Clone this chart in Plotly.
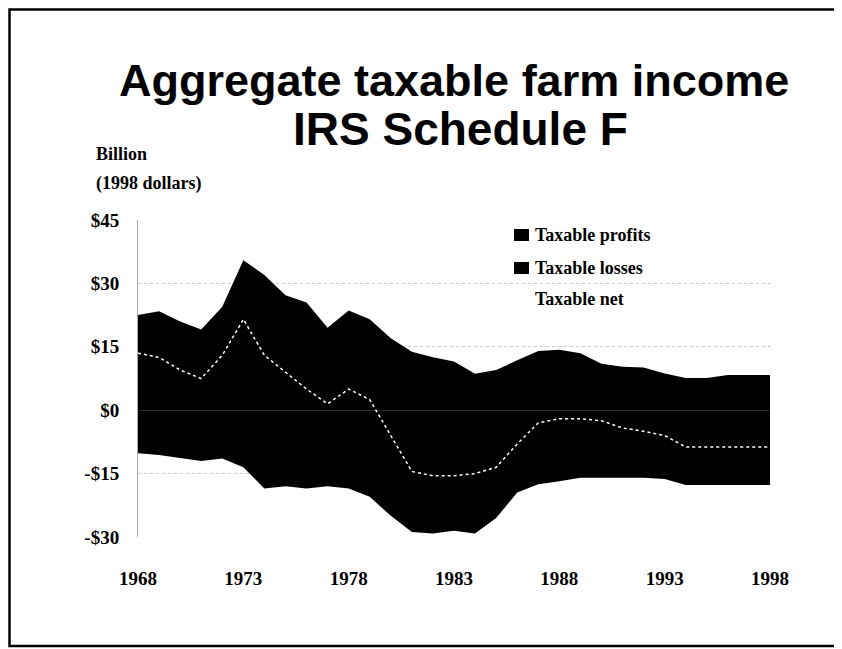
import plotly.graph_objects as go

years = list(range(1968, 1999))
profits = [22.5, 23.4, 21.0, 19.1, 24.5, 35.5, 32.0, 27.2, 25.5, 19.5,
           23.6, 21.5, 17.0, 13.8, 12.5, 11.5, 8.6, 9.5, 11.8, 14.0,
           14.3, 13.5, 11.0, 10.3, 10.1, 8.7, 7.6, 7.6, 8.3, 8.3, 8.3]
losses = [-10.2, -10.6, -11.3, -12.0, -11.4, -13.5, -18.5, -18.0, -18.5, -18.0,
          -18.5, -20.5, -25.0, -28.8, -29.2, -28.5, -29.2, -25.5, -19.5, -17.5,
          -16.8, -16.0, -16.0, -16.0, -16.0, -16.3, -17.7, -17.7, -17.7, -17.7, -17.7]
net = [13.5, 12.5, 9.5, 7.5, 13.0, 21.5, 13.0, 9.0, 5.0, 1.5,
       5.0, 2.5, -6.0, -14.5, -15.5, -15.5, -15.0, -13.5, -8.0, -3.0,
       -2.0, -2.0, -2.5, -4.2, -5.0, -6.0, -8.7, -8.7, -8.7, -8.6, -8.7]

y_ticks = [45, 30, 15, 0, -15, -30]
y_tick_text = ["$45", "$30", "$15", "$0", "-$15", "-$30"]
x_ticks = [1968, 1973, 1978, 1983, 1988, 1993, 1998]
series_names = ["Taxable profits", "Taxable losses", "Taxable net"]
title_lines = ["Aggregate taxable farm income", "IRS Schedule F"]
unit_lines = ["Billion", "(1998 dollars)"]

OFF = 8  # page body margin
W, H = 842 - OFF, 649 - OFF
SX0, SX1, SY0, SY1 = 138, 770, 220, 537
L, R, T, B = SX0 - OFF, 842 - SX1, SY0 - OFF, 649 - SY1
pw, ph = W - L - R, H - T - B

def px(x):
    return (x - OFF - L) / pw

def py(y):
    return (H - B - (y - OFF)) / ph

serif = "Liberation Serif, Times New Roman, serif"
sans = "Liberation Sans, Arial, sans-serif"

fig = go.Figure()
fig.add_trace(go.Scatter(x=years, y=profits, name=series_names[0], mode="lines",
                         line=dict(color="black", width=0), fill="tozeroy",
                         fillcolor="black"))
fig.add_trace(go.Scatter(x=years, y=losses, name=series_names[1], mode="lines",
                         line=dict(color="black", width=0), fill="tozeroy",
                         fillcolor="black"))
fig.add_trace(go.Scatter(x=years, y=net, name=series_names[2], mode="lines",
                         line=dict(color="white", width=1.5, dash="dot")))

annotations = []
annotations.append(dict(x=px(454), y=py(80), xref="paper", yref="paper",
                        text="<b>" + title_lines[0] + "</b>", showarrow=False,
                        font=dict(family=sans, size=45, color="black"),
                        xanchor="center", yanchor="middle"))
annotations.append(dict(x=px(461), y=py(129), xref="paper", yref="paper",
                        text="<b>" + title_lines[1] + "</b>", showarrow=False,
                        font=dict(family=sans, size=46, color="black"),
                        xanchor="center", yanchor="middle"))
annotations.append(dict(x=px(94), y=py(154), xref="paper", yref="paper",
                        text="<b>" + unit_lines[0] + "</b>", showarrow=False,
                        font=dict(family=serif, size=18, color="black"),
                        xanchor="left", yanchor="middle"))
annotations.append(dict(x=px(94), y=py(183), xref="paper", yref="paper",
                        text="<b>" + unit_lines[1] + "</b>", showarrow=False,
                        font=dict(family=serif, size=18, color="black"),
                        xanchor="left", yanchor="middle"))

shapes = []
legend_y = [235, 268, 299]
for i, name in enumerate(series_names):
    annotations.append(dict(x=px(533), y=py(legend_y[i]), xref="paper", yref="paper",
                            text="<b>" + name + "</b>", showarrow=False,
                            font=dict(family=serif, size=18, color="black"),
                            xanchor="left", yanchor="middle"))
    if i < 2:
        shapes.append(dict(type="rect", xref="paper", yref="paper",
                           x0=px(514), x1=px(529), y0=py(legend_y[i] + 6),
                           y1=py(legend_y[i] - 6), fillcolor="black",
                           line=dict(width=0)))

# outer frame (kept inside the figure area)
shapes.append(dict(type="rect", xref="paper", yref="paper",
                   x0=px(OFF + 1.5), x1=px(839), y0=py(646), y1=py(OFF + 1.5),
                   line=dict(color="black", width=2.5), fillcolor="rgba(0,0,0,0)"))

fig.update_layout(
    width=W, height=H,
    margin=dict(l=L, r=R, t=T, b=B),
    paper_bgcolor="white", plot_bgcolor="white",
    showlegend=False,
    annotations=annotations,
    shapes=shapes,
    xaxis=dict(range=[1968, 1998], tickmode="array", tickvals=x_ticks,
               ticktext=["<b>" + str(v) + "</b>" for v in x_ticks], showgrid=False,
               zeroline=False, showline=False, ticks="",
               tickfont=dict(family=serif, size=19, color="black"),
               ticklabelstandoff=28),
    yaxis=dict(range=[-30, 45], tickmode="array", tickvals=y_ticks,
               ticktext=["<b>" + t + "</b>" for t in y_tick_text],
               showgrid=True, gridcolor="#c8c8c8", griddash="dot", gridwidth=1,
               zeroline=False, showline=True, linecolor="#aaaaaa", linewidth=1,
               ticks="", tickfont=dict(family=serif, size=19, color="black"),
               ticklabelstandoff=14),
)

fig.write_html("out.html")
